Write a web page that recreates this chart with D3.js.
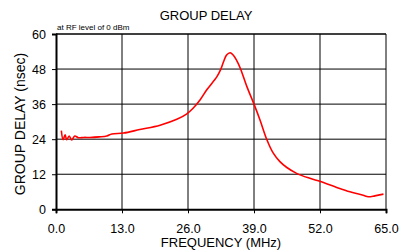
<!DOCTYPE html>
<html><head><meta charset="utf-8">
<script src="https://cdn.jsdelivr.net/npm/d3@7"></script>
<style>body{margin:0;background:#fff;}svg{display:block;font-family:"Liberation Sans",Arial,sans-serif;}</style>
</head><body><svg id="c" width="399" height="250"></svg>
<script>
const freq = [1.05,1.4,1.8,2.1,2.6,3.1,3.7,4.4,5.5,6.7,8.5,10,11,13.3,16.5,20.5,23.8,25.7,27.0,28.4,29.7,31.7,32.4,33.0,33.6,34.3,34.9,35.6,36.3,37.6,39.0,40.2,41.5,42.8,44.1,45.4,47.4,50.0,52.1,55.3,57.9,60.5,61.5,62.8,64.5];
const delay = [26.9,23.8,25.5,23.8,25.1,23.7,25.1,24.5,24.6,24.6,24.8,25.1,25.8,26.1,27.3,28.8,30.8,32.6,34.6,37.5,40.9,45.4,47.7,50.5,52.8,53.6,52.8,50.9,48.3,42.0,36.0,30.5,24.0,19.2,16.3,14.4,12.3,10.6,9.5,7.5,6.0,4.8,4.3,4.6,5.2];
const xTicks = [0,13,26,39,52,65];
const yTicks = [0,12,24,36,48,60];

const svg = d3.select("#c");
const L=56,R=386,T=34,B=209.3;
const x = d3.scaleLinear().domain([0,65]).range([L,R]);
const y = d3.scaleLinear().domain([0,60]).range([B,T]);

// grid
svg.append("g").selectAll("line").data(xTicks.slice(1)).join("line")
  .attr("x1",d=>x(d)).attr("x2",d=>x(d)).attr("y1",T).attr("y2",B)
  .attr("stroke","#000").attr("stroke-width",1);
svg.append("g").selectAll("line").data(yTicks.slice(1)).join("line")
  .attr("x1",L).attr("x2",R).attr("y1",d=>y(d)).attr("y2",d=>y(d))
  .attr("stroke","#000").attr("stroke-width",1);

// axes
const xa = svg.append("g").attr("transform",`translate(0,${B})`)
  .call(d3.axisBottom(x).tickValues(xTicks).tickFormat(d3.format(".1f")).tickSize(4).tickPadding(11));
const ya = svg.append("g").attr("transform",`translate(${L},0)`)
  .call(d3.axisLeft(y).tickValues(yTicks).tickSize(4).tickPadding(6));
[xa,ya].forEach(a=>{
  a.select(".domain").attr("stroke","#000").attr("stroke-width",2);
  a.selectAll(".tick line").attr("stroke","#000");
  a.selectAll(".tick text").attr("font-size",12.5).attr("fill","#000").attr("font-family","Liberation Sans, Arial, sans-serif");
});
svg.append("line").attr("x1",L).attr("x2",R).attr("y1",T).attr("y2",T).attr("stroke","#000");

// curve
svg.append("path").datum(freq.map((f,i)=>[f,delay[i]]))
  .attr("fill","none").attr("stroke","#ff0000").attr("stroke-width",1.6)
  .attr("d",d3.line().x(d=>x(d[0])).y(d=>y(d[1])).curve(d3.curveCatmullRom));

// texts
svg.append("text").attr("x",206).attr("y",20).attr("text-anchor","middle").attr("font-size",13).text("GROUP DELAY");
svg.append("text").attr("x",57).attr("y",30).attr("font-size",8).text("at RF level of 0 dBm");
svg.append("text").attr("x",221).attr("y",247).attr("text-anchor","middle").attr("font-size",13).text("FREQUENCY (MHz)");
svg.append("text").attr("transform",`translate(25,124) rotate(-90)`).attr("text-anchor","middle").attr("font-size",14).text("GROUP DELAY (nsec)");
</script></body></html>
